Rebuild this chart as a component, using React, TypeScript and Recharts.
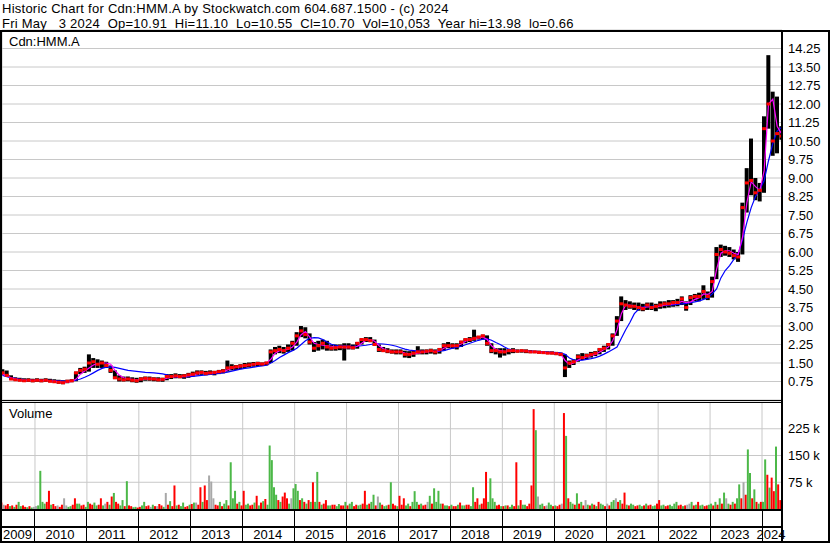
import React from "react";
import {
  ComposedChart,
  Bar,
  Line,
  Scatter,
  XAxis,
  YAxis,
  CartesianGrid,
  Cell,
} from "recharts";

const FONT = "'Liberation Sans', Arial, sans-serif";
const X_MIN = 2009.365;
const X_MAX = 2024.385;
const PLOT_LEFT = 2;
const PLOT_RIGHT = 782;
const FIRST_YEAR = 2009;
const FIRST_MONTH = 5; // May 2009

// monthly high / low / close, May 2009 .. May 2024
const high = [
  1.25, 1.2, 1.0, 0.92, 0.9, 0.88, 0.88, 0.86,
  0.88, 0.86, 0.88, 0.86, 0.84, 0.82, 0.8, 0.82, 0.84, 1.15, 1.3, 1.35,
  1.85, 1.7, 1.65, 1.6, 1.55, 1.4, 1.2, 1.0, 0.95, 0.95, 0.92, 0.9,
  0.92, 0.95, 0.95, 0.92, 0.92, 0.9, 1.05, 1.05, 1.08, 1.05, 1.05, 1.1,
  1.15, 1.2, 1.2, 1.18, 1.2, 1.18, 1.22, 1.25, 1.6, 1.45, 1.42, 1.45,
  1.5, 1.52, 1.54, 1.55, 1.52, 1.55, 2.05, 2.15, 2.2, 2.15, 2.25, 2.4,
  2.75, 3.0, 2.95, 2.7, 2.35, 2.4, 2.45, 2.4, 2.25, 2.25, 2.25, 2.3,
  2.3, 2.25, 2.35, 2.5, 2.55, 2.55, 2.45, 2.25, 2.15, 2.1, 2.05, 2.05,
  2.05, 2.0, 1.98, 2.0, 2.18, 2.05, 2.05, 2.08, 2.05, 2.1, 2.3, 2.35,
  2.3, 2.3, 2.4, 2.5, 2.55, 2.85, 2.6, 2.65, 2.62, 2.3, 2.1, 2.1,
  2.1, 2.05, 2.1, 2.05, 2.05, 2.05, 2.02, 2.0, 2.0, 1.98, 1.97, 1.97,
  1.95, 1.92, 1.85, 1.6, 1.65, 1.85, 1.9, 1.88, 1.95, 1.98, 2.1, 2.2,
  2.3, 2.7, 3.4, 4.2, 4.05, 4.0, 3.95, 3.95, 3.9, 3.95, 3.95, 3.9,
  4.0, 4.0, 4.05, 4.05, 4.1, 4.2, 4.0, 4.25, 4.3, 4.35, 4.65, 4.4,
  5.0, 6.2, 6.3, 6.25, 6.2, 6.1, 6.0, 8.0, 9.4, 10.6, 9.0, 8.8,
  11.5, 13.98, 12.5, 12.3, 11.1,
];
const low = [
  1.0, 0.95, 0.82, 0.78, 0.76, 0.74, 0.74, 0.72,
  0.74, 0.72, 0.74, 0.72, 0.7, 0.66, 0.64, 0.68, 0.72, 0.76, 1.05, 1.1,
  1.15, 1.3, 1.3, 1.3, 1.3, 1.1, 0.85, 0.75, 0.75, 0.76, 0.72, 0.7,
  0.72, 0.78, 0.78, 0.76, 0.75, 0.74, 0.8, 0.85, 0.88, 0.88, 0.86, 0.9,
  0.95, 1.0, 1.02, 1.0, 1.02, 1.0, 1.05, 1.08, 1.15, 1.2, 1.22, 1.25,
  1.3, 1.32, 1.35, 1.38, 1.38, 1.4, 1.5, 1.85, 1.9, 1.88, 1.95, 2.0,
  2.2, 2.55, 2.5, 2.25, 1.95, 2.0, 2.05, 2.0, 2.0, 2.0, 2.02, 1.6,
  2.05, 2.05, 2.08, 2.25, 2.35, 2.35, 2.2, 1.95, 1.95, 1.9, 1.88, 1.85,
  1.85, 1.72, 1.7, 1.75, 1.85, 1.85, 1.85, 1.88, 1.85, 1.88, 2.0, 2.1,
  2.08, 2.05, 2.15, 2.3, 2.35, 2.4, 2.45, 2.45, 2.2, 1.9, 1.85, 1.72,
  1.8, 1.85, 1.9, 1.92, 1.92, 1.9, 1.9, 1.9, 1.88, 1.88, 1.86, 1.85,
  1.82, 1.78, 0.93, 1.3, 1.42, 1.55, 1.62, 1.65, 1.72, 1.78, 1.85, 1.95,
  2.05, 2.2, 2.6, 3.2, 3.65, 3.7, 3.65, 3.62, 3.6, 3.65, 3.65, 3.6,
  3.7, 3.72, 3.75, 3.78, 3.8, 3.85, 3.62, 3.85, 4.0, 4.0, 4.1, 4.05,
  4.15, 4.9, 5.8, 5.85, 5.8, 5.7, 5.6, 5.9, 7.6, 8.3, 8.1, 8.05,
  8.4, 11.0, 9.9, 10.0, 10.55,
];
const close = [
  1.1, 1.0, 0.85, 0.82, 0.8, 0.78, 0.8, 0.78,
  0.8, 0.78, 0.8, 0.76, 0.74, 0.72, 0.7, 0.76, 0.78, 1.1, 1.2, 1.25,
  1.5, 1.55, 1.45, 1.5, 1.4, 1.2, 0.9, 0.85, 0.82, 0.85, 0.8, 0.78,
  0.85, 0.88, 0.86, 0.85, 0.82, 0.84, 0.95, 0.95, 0.98, 0.95, 0.98, 1.02,
  1.05, 1.1, 1.12, 1.08, 1.1, 1.12, 1.15, 1.18, 1.3, 1.32, 1.35, 1.38,
  1.4, 1.42, 1.45, 1.48, 1.46, 1.5, 1.95, 2.0, 2.05, 2.0, 2.1, 2.3,
  2.6, 2.8, 2.65, 2.35, 2.1, 2.2, 2.3, 2.15, 2.1, 2.12, 2.15, 2.15,
  2.15, 2.12, 2.3, 2.45, 2.45, 2.4, 2.25, 2.05, 2.0, 1.98, 1.95, 1.95,
  1.95, 1.85, 1.85, 1.9, 1.95, 1.95, 1.98, 2.0, 1.95, 2.05, 2.2, 2.2,
  2.2, 2.2, 2.35, 2.45, 2.45, 2.5, 2.55, 2.6, 2.3, 2.0, 2.0, 1.95,
  1.95, 2.0, 2.0, 1.98, 2.0, 1.98, 1.95, 1.95, 1.93, 1.92, 1.9, 1.9,
  1.88, 1.85, 1.3, 1.5, 1.55, 1.75, 1.72, 1.8, 1.85, 1.9, 2.05, 2.1,
  2.25, 2.6, 3.2, 3.9, 3.85, 3.8, 3.8, 3.75, 3.7, 3.85, 3.75, 3.8,
  3.85, 3.9, 3.9, 3.95, 3.95, 4.1, 3.75, 4.15, 4.2, 4.2, 4.4, 4.2,
  4.8, 5.9, 6.1, 6.0, 5.95, 5.85, 5.8, 7.8, 8.8, 8.9, 8.4, 8.5,
  11.0, 12.0, 10.5, 10.8, 10.7,
];
// short (magenta) and long (blue) moving averages
const maFast = [
  1.05, 0.98, 0.9, 0.85, 0.82, 0.8, 0.8, 0.79,
  0.8, 0.8, 0.79, 0.78, 0.76, 0.74, 0.72, 0.72, 0.75, 0.85, 1.05, 1.18,
  1.3, 1.42, 1.48, 1.5, 1.5, 1.45, 1.2, 1.0, 0.9, 0.86, 0.84, 0.82,
  0.82, 0.85, 0.86, 0.86, 0.84, 0.83, 0.88, 0.93, 0.95, 0.96, 0.96, 0.99,
  1.02, 1.06, 1.1, 1.1, 1.1, 1.11, 1.13, 1.16, 1.22, 1.28, 1.32, 1.35,
  1.38, 1.41, 1.44, 1.46, 1.47, 1.49, 1.65, 1.9, 2.0, 2.02, 2.05, 2.15,
  2.35, 2.65, 2.77, 2.55, 2.3, 2.25, 2.22, 2.2, 2.18, 2.15, 2.14, 2.12,
  2.12, 2.12, 2.18, 2.3, 2.42, 2.45, 2.38, 2.2, 2.08, 2.0, 1.97, 1.96,
  1.95, 1.9, 1.86, 1.87, 1.9, 1.93, 1.95, 1.97, 1.97, 2.0, 2.1, 2.18,
  2.2, 2.2, 2.27, 2.38, 2.45, 2.48, 2.52, 2.55, 2.45, 2.2, 2.05, 2.0,
  1.97, 1.98, 2.0, 2.0, 1.99, 1.98, 1.96, 1.95, 1.94, 1.93, 1.91, 1.9,
  1.89, 1.87, 1.6, 1.45, 1.5, 1.62, 1.7, 1.75, 1.8, 1.85, 1.95, 2.05,
  2.15, 2.4, 2.85, 3.5, 3.85, 3.85, 3.8, 3.78, 3.75, 3.77, 3.78, 3.78,
  3.8, 3.85, 3.88, 3.9, 3.93, 4.0, 3.95, 3.98, 4.08, 4.15, 4.3, 4.28,
  4.4, 5.3, 5.95, 6.05, 6.05, 5.95, 5.9, 6.6, 8.0, 8.85, 8.65, 8.5,
  9.3, 12.0, 12.2, 11.1, 10.8,
];
const maSlow = [
  1.0, 0.95, 0.9, 0.88, 0.85, 0.83, 0.82, 0.81,
  0.81, 0.8, 0.8, 0.8, 0.79, 0.78, 0.77, 0.77, 0.77, 0.8, 0.85, 0.92,
  1.0, 1.1, 1.2, 1.28, 1.33, 1.34, 1.32, 1.28, 1.24, 1.2, 1.18, 1.16,
  1.14, 1.12, 1.11, 1.1, 1.08, 1.06, 1.02, 0.97, 0.94, 0.93, 0.94, 0.95,
  0.96, 0.98, 1.0, 1.02, 1.04, 1.06, 1.08, 1.1, 1.13, 1.17, 1.21, 1.25,
  1.28, 1.3, 1.33, 1.36, 1.38, 1.41, 1.5, 1.6, 1.72, 1.82, 1.92, 2.0,
  2.1, 2.25, 2.4, 2.5, 2.53, 2.52, 2.45, 2.35, 2.26, 2.22, 2.2, 2.2,
  2.19, 2.18, 2.18, 2.2, 2.22, 2.25, 2.28, 2.28, 2.27, 2.25, 2.22, 2.18,
  2.12, 2.06, 2.02, 2.0, 1.98, 1.98, 1.97, 1.97, 1.97, 1.98, 2.0, 2.05,
  2.1, 2.13, 2.18, 2.24, 2.3, 2.36, 2.42, 2.47, 2.48, 2.42, 2.33, 2.25,
  2.15, 2.06, 2.02, 2.0, 2.0, 1.99, 1.98, 1.97, 1.96, 1.95, 1.94, 1.93,
  1.92, 1.91, 1.85, 1.7, 1.63, 1.61, 1.62, 1.65, 1.68, 1.72, 1.78, 1.86,
  1.95, 2.05, 2.15, 2.5, 2.85, 3.15, 3.5, 3.68, 3.77, 3.8, 3.8, 3.82,
  3.82, 3.84, 3.85, 3.86, 3.88, 3.9, 3.92, 3.95, 3.98, 4.02, 4.08, 4.15,
  4.3, 4.5, 4.95, 5.25, 5.45, 5.7, 5.93, 6.5, 7.2, 7.8, 8.25, 8.55,
  8.9, 9.7, 10.4, 10.9, 11.05,
];

// volume in thousands, two half-month bars per month
const volume = [
  18, 12, 10, 14, 8, 10, 6, 12, 20, 8, 10, 6, 5, 8, 4, 6,
  8, 10, 107, 20, 15, 20, 51, 12, 14, 8, 10, 6, 12, 30, 10, 6, 8, 12, 30, 15, 15, 10, 12, 6,
  20, 15, 12, 18, 10, 12, 30, 10, 15, 20, 12, 35, 45, 20, 15, 10, 25, 8, 78, 10, 8, 5, 6, 4,
  6, 10, 20, 8, 10, 6, 12, 8, 8, 14, 10, 6, 45, 12, 22, 8, 66, 10, 12, 8, 18, 6, 8, 12,
  14, 18, 18, 12, 61, 20, 66, 25, 94, 77, 30, 12, 10, 20, 8, 15, 25, 10, 131, 30, 51, 15, 20, 10,
  51, 12, 15, 10, 12, 18, 37, 10, 18, 22, 28, 12, 178, 137, 61, 40, 25, 20, 35, 46, 30, 15, 30, 58,
  70, 51, 25, 30, 20, 15, 25, 20, 75, 20, 104, 20, 12, 15, 25, 10, 10, 12, 12, 8, 14, 10, 10, 20,
  10, 15, 20, 8, 12, 10, 12, 15, 51, 12, 15, 20, 40, 10, 35, 18, 12, 8, 10, 12, 75, 15, 10, 8,
  37, 12, 30, 10, 15, 8, 20, 50, 20, 12, 15, 10, 12, 20, 37, 15, 58, 20, 51, 15, 15, 10, 10, 8,
  12, 8, 8, 12, 18, 10, 10, 12, 12, 8, 61, 20, 30, 12, 15, 30, 104, 20, 86, 30, 20, 10, 12, 8,
  8, 10, 10, 6, 12, 8, 131, 10, 25, 12, 12, 8, 15, 66, 280, 221, 35, 12, 15, 8, 10, 18, 12, 8,
  10, 8, 12, 15, 269, 205, 30, 20, 15, 12, 44, 15, 20, 10, 25, 12, 10, 15, 12, 8, 20, 15, 12, 8,
  15, 10, 20, 25, 30, 20, 25, 15, 46, 12, 10, 15, 12, 8, 10, 12, 8, 10, 15, 10, 12, 8, 10, 15,
  25, 10, 12, 8, 10, 12, 8, 15, 20, 10, 12, 8, 10, 12, 15, 20, 10, 12, 20, 10, 12, 8, 10, 12,
  15, 10, 20, 12, 30, 15, 46, 30, 15, 12, 20, 15, 30, 69, 30, 75, 40, 167, 101, 30, 55, 20, 15, 20,
  20, 139, 96, 60, 88, 50, 175, 69, 25,
];
// g = up, r = down, n = unchanged
const volumeDirection = [
  "rnrrgrgrggrrgrgn",
  "nggggrrgrrnrrnnggrrggrrg",
  "grrggrrgnrgrgrrggrgrrggr",
  "rggrrngrnrrgnrgrrgrggrrg",
  "rgnrrgrrnnnrrgrggrgggrgr",
  "rggrrgrgrgrgggggrgrrrgng",
  "ggrgrgrgrggrgrrggrrggrrg",
  "rggrrggrrgrggrngrggrgrrg",
  "rrrggrgggrgrrngrggggrggr",
  "grrgrggrrggrrgrrrggggrrg",
  "rgrggrrgrggrrrrgnggrnggr",
  "grrnrgrggrgrgrngrgrgrggr",
  "nrggnrgrrgrggrrggrgrrggr",
  "rggrrggggrrgrnngrgrggrrg",
  "grgrgrgngrgrggrnrggrgrgr",
  "ggrgrrgrr",
].join("");

const priceTicks = [
  0.75, 1.5, 2.25, 3, 3.75, 4.5, 5.25, 6, 6.75, 7.5, 8.25, 9, 9.75, 10.5,
  11.25, 12, 12.75, 13.5, 14.25,
];
const volumeTicks = [75, 150, 225];
const yearTicks = [
  X_MIN, 2010, 2011, 2012, 2013, 2014, 2015, 2016, 2017, 2018, 2019, 2020,
  2021, 2022, 2023, 2024,
];

const VOL_COLORS: Record<string, string> = {
  g: "#4cb848",
  r: "#ff0000",
  n: "#a8a8a8",
};

const priceData = high.map((h, i) => ({
  t: FIRST_YEAR + (FIRST_MONTH - 1 + i + 0.5) / 12,
  range: [low[i], h],
  close: close[i],
  fast: maFast[i],
  slow: maSlow[i],
}));

const volumeData = volume.map((v, i) => ({
  t: FIRST_YEAR + (FIRST_MONTH - 1 + i / 2 + 0.25) / 12,
  v,
  c: VOL_COLORS[volumeDirection[i]] ?? "#a8a8a8",
}));

function CloseMark(props: any) {
  const { cx, cy } = props;
  if (cx == null || cy == null) return null;
  return <rect x={cx - 2} y={cy - 1.5} width={4} height={3} fill="#ff0000" />;
}

function YearTick(props: any) {
  const { x, y, payload } = props;
  const start = payload.value as number;
  const year = Math.floor(start + 1e-6);
  const end = Math.min(year + 1, X_MAX);
  const half = (((end - start) / (X_MAX - X_MIN)) * (PLOT_RIGHT - PLOT_LEFT)) / 2;
  return (
    <g>
      {start > X_MIN + 0.01 && (
        <line x1={x} x2={x} y1={y} y2={y + 33} stroke="#000" shapeRendering="crispEdges" />
      )}
      <text x={x + half - 1} y={y + 30} textAnchor="middle" fontSize={13} fill="#000" fontFamily={FONT}>
        {year}
      </text>
    </g>
  );
}

const tickStyle = { fontSize: 13, fill: "#000", fontFamily: FONT };

export default function App() {
  return (
    <div
      style={{
        position: "absolute",
        left: 0,
        top: 0,
        width: 830,
        height: 543,
        background: "#fff",
        fontFamily: FONT,
      }}
    >
      <div style={{ position: "absolute", left: 0, top: 0 }}>
        <ComposedChart
          width={830}
          height={400}
          data={priceData}
          margin={{ top: 30, right: 0, bottom: 0, left: 2 }}
        >
          <CartesianGrid stroke="#c8c8c8" />
          <XAxis
            dataKey="t"
            type="number"
            domain={[X_MIN, X_MAX]}
            allowDataOverflow
            ticks={yearTicks.slice(1)}
            height={0}
            tick={false}
            tickLine={false}
            axisLine={false}
          />
          <YAxis
            orientation="right"
            width={48}
            domain={[0, 15]}
            allowDataOverflow
            ticks={priceTicks}
            interval={0}
            tickFormatter={(v) => Number(v).toFixed(2)}
            tick={tickStyle}
            tickLine={false}
            tickSize={4}
            tickMargin={2}
            axisLine={false}
          />
          <Bar dataKey="range" barSize={4} fill="#000" isAnimationActive={false} />
          <Scatter dataKey="close" shape={CloseMark} isAnimationActive={false} />
          <Line
            dataKey="slow"
            type="linear"
            stroke="#0000ff"
            strokeWidth={1.2}
            dot={false}
            isAnimationActive={false}
          />
          <Line
            dataKey="fast"
            type="linear"
            stroke="#ff00ff"
            strokeWidth={1.2}
            dot={false}
            isAnimationActive={false}
          />
        </ComposedChart>
      </div>

      <div style={{ position: "absolute", left: 0, top: 400 }}>
        <ComposedChart
          width={830}
          height={143}
          data={volumeData}
          margin={{ top: 2, right: 0, bottom: 0, left: 2 }}
        >
          <CartesianGrid stroke="#c8c8c8" />
          <XAxis
            dataKey="t"
            type="number"
            domain={[X_MIN, X_MAX]}
            allowDataOverflow
            ticks={yearTicks}
            interval={0}
            height={34}
            tick={<YearTick />}
            tickSize={0}
            tickMargin={0}
            tickLine={false}
            axisLine={false}
          />
          <YAxis
            orientation="right"
            width={48}
            domain={[0, 300]}
            allowDataOverflow
            ticks={volumeTicks}
            interval={0}
            tickFormatter={(v) => `${v} k`}
            tick={tickStyle}
            tickLine={false}
            tickSize={4}
            tickMargin={2}
            axisLine={false}
          />
          <Bar dataKey="v" barSize={2} isAnimationActive={false}>
            {volumeData.map((d, i) => (
              <Cell key={i} fill={d.c} />
            ))}
          </Bar>
        </ComposedChart>
      </div>

      {/* frame, panel separators and captions */}
      <svg
        width={830}
        height={543}
        style={{ position: "absolute", left: 0, top: 0, pointerEvents: "none" }}
        fontFamily={FONT}
      >
        <text x={2} y={13} fontSize={13} fill="#000" letterSpacing={0.25} xmlSpace="preserve">
          Historic Chart for Cdn:HMM.A by Stockwatch.com 604.687.1500 - (c) 2024
        </text>
        <text x={2} y={28} fontSize={13} fill="#000" letterSpacing={0.25} xmlSpace="preserve">
          {"Fri May   3 2024  Op=10.91  Hi=11.10  Lo=10.55  Cl=10.70  Vol=10,053  Year hi=13.98  lo=0.66"}
        </text>
        <rect x={0} y={30} width={830} height={2} fill="#000" />
        <rect x={0} y={30} width={2} height={513} fill="#000" />
        <rect x={828} y={30} width={2} height={513} fill="#000" />
        <rect x={781} y={30} width={2} height={513} fill="#000" />
        <rect x={0} y={400} width={782} height={1} fill="#000" />
        <rect x={0} y={402} width={782} height={1} fill="#000" />
        <rect x={0} y={509} width={782} height={2} fill="#000" />
        <rect x={0} y={526} width={782} height={2} fill="#000" />
        <rect x={0} y={541} width={830} height={2} fill="#000" />
        <text x={9} y={46} fontSize={13} fill="#000">
          Cdn:HMM.A
        </text>
        <text x={9} y={418} fontSize={13} fill="#000">
          Volume
        </text>
      </svg>
    </div>
  );
}
